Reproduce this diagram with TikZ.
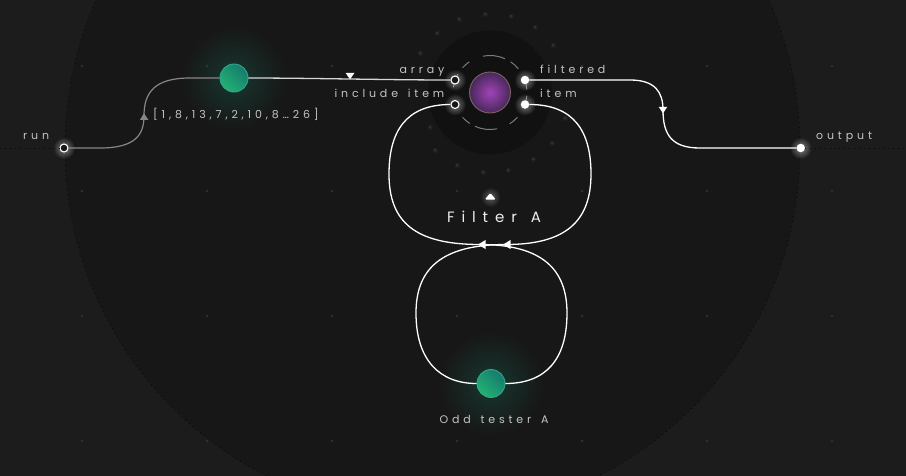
\documentclass[tikz,border=0pt]{standalone}
\usepackage{fontspec}
\setmainfont{Poppins}
\newfontfamily\labf[LetterSpace=35]{Poppins}
\newfontfamily\titf[LetterSpace=46]{Poppins}
\usetikzlibrary{fadings}
\definecolor{bgout}{HTML}{1C1C1C}
\definecolor{bgin}{HTML}{171717}
\definecolor{halo}{HTML}{111111}
\definecolor{griddot}{HTML}{313131}
\definecolor{sparkc}{HTML}{3E3E3E}
\definecolor{labc}{HTML}{C8C3C3}
\definecolor{wiregray}{HTML}{8A8585}
\definecolor{wirelight}{HTML}{D6D6D6}
\definecolor{gdark}{HTML}{167A6E}
\definecolor{glight}{HTML}{22B272}
\definecolor{grim}{HTML}{30A98A}
\definecolor{gglow}{HTML}{1A9A7A}
\definecolor{pin}{HTML}{A044B8}
\definecolor{pout}{HTML}{48285A}
\definecolor{prim}{HTML}{7E6262}
\definecolor{ringc}{HTML}{7C7C7C}
\newcommand\wsp{\hspace{3pt} }
\tikzfading[name=softglow, inner color=transparent!0, outer color=transparent!100]
\begin{document}
\begin{tikzpicture}[x=1pt,y=-1pt,
  wire/.style={line width=1.3pt, white},
  wireg/.style={line width=1.2pt, wiregray},
  wirel/.style={line width=1.3pt, wirelight},
  lab/.style={font=\labf\fontsize{11}{13}\selectfont, text=labc, inner sep=0pt},
  titlab/.style={font=\titf\fontsize{15}{17}\selectfont, text=white!93!black, inner sep=0pt},
  hport/.style={circle, draw=white, fill=bgin, line width=1.1pt, minimum size=8pt, inner sep=0pt},
  fport/.style={circle, fill=white, minimum size=8.5pt, inner sep=0pt},
  gnode/.style={circle, minimum size=28pt, inner sep=0pt, draw=grim, line width=0.9pt,
    left color=gdark, right color=glight, shading angle=-45},
  dotline/.style={griddot!120, line width=0.9pt, dash pattern=on 0.9pt off 4pt},
  ringarc/.style={ringc, line width=1pt},
  marker/.style={fill=white},
  glowW/.style={fill=white, path fading=softglow, fill opacity=0.45},
]
\useasboundingbox (0,0) rectangle (906,475);
\clip (0,0) rectangle (906,475);
% background
\fill[bgout] (-2,-2) rectangle (908,477);
\fill[bgin] (432.5,148) circle (367.5);
\draw[dotline] (432.5,148) circle (367.5);
\foreach \x in {82,207,332,457,582,707,832}
  \foreach \y in {66,191,316,441}
    \fill[griddot] (\x,\y) circle (1.3);
% glows of green nodes
\fill[gglow, path fading=softglow, fill opacity=0.25] (234,78) circle (52);
\fill[gglow, path fading=softglow, fill opacity=0.25] (491,383.5) circle (52);
% filter halo
\fill[halo] (490,92.5) circle (62);
% sparkles
\foreach \p in {(459,19),(485,14),(511,16),(535,27),(437,33),(553,45),(420,53),(565,118),(552,143),(533,159),(508,170),(483,172),(457,165),(435,150),(430,127)}{
  \fill[white, path fading=softglow, fill opacity=0.08] \p circle (3.5);
  \fill[sparkc] \p circle (0.9);
}
% dashed ring
\foreach \a/\b in {-101/-66,-56/-40,-138/-124,-172/-150,-237/-222,-281/-246,-318/-302,-13/-5,5/13}
  \draw[ringarc] (490,92.5) ++(\a:37) arc[start angle=\a, end angle=\b, radius=37];
% port glows
\foreach \p in {(64,148),(800.7,148),(455,80),(455,104.5),(525,80),(525,104.5)}
  \fill[glowW] \p circle (11);
% filter icon glow
\fill[glowW, fill opacity=0.3] (490.3,197) circle (10);

% nodes
\node[hport] (runp) at (64,148) {};
\node[fport] (outp) at (800.7,148) {};
\node[hport] (arrayp) at (455,80) {};
\node[hport] (inclp) at (455,104.5) {};
\node[fport] (filtp) at (525,80) {};
\node[fport] (itemp) at (525,104.5) {};
\node[circle, minimum size=41pt, inner sep=0pt, inner color=pin, outer color=pout,
      draw=prim, line width=0.9pt] (fball) at (490,92.5) {};
\node[gnode] (g1) at (234,78) {};
\node[gnode] (odd) at (491,383.5) {};

% dotted guide lines
\draw[dotline] (0,148) -- (runp.west);
\draw[dotline] (outp.east) -- (906,148);

% wires
\draw[wireg] (runp.east) -- (100,148) .. controls +(35,0) and +(0,19) .. (144,116)
   .. controls +(0,-24) and +(-35,0) .. (190,78) -- (g1.west);
\draw[wirel] (g1.east) .. controls +(60,0) and +(-60,0) .. (arrayp.west);
\draw[wire] (filtp.east) -- (630,80) .. controls +(25,0) and +(0,-18) .. (663,110)
   .. controls +(0,25) and +(-28,0) .. (700,148) -- (outp.west);
\draw[wire] (itemp.east) .. controls +(45,0) and +(0,-42) .. (591,174)
   .. controls +(0,48) and +(59,0) .. (506,244.5)
   .. controls +(-66,0) and +(0,-43) .. (416,313)
   .. controls +(0,47) and +(-37,0) .. (odd.west);
\draw[wire] (odd.east) .. controls +(40,0) and +(0,47) .. (567,313)
   .. controls +(0,-43) and +(63,0) .. (480,244.5)
   .. controls +(-65,0) and +(0,48) .. (389,174)
   .. controls +(0,-42) and +(-45,0) .. (inclp.west);

% markers
\fill[marker] (345.5,72.8) -- (354.5,72.8) -- (350,79.3) -- cycle;
\fill[marker] (658.7,106.8) -- (667.3,106.8) -- (663,113.3) -- cycle;
\fill[wiregray] (140,119.8) -- (148.3,119.8) -- (144,113.3) -- cycle;
\fill[marker] (478,244.5) -- (485.5,240) -- (485.5,249) -- cycle;
\fill[marker] (503,244.5) -- (510.5,240) -- (510.5,249) -- cycle;
\fill[marker, rounded corners=1.2pt] (484.8,199.5) -- (495.8,199.5) -- (490.3,193) -- cycle;

% labels
\node[lab, anchor=base east] (larray) at (444.5,73.3) {array};
\node[lab, anchor=base east] (lincl) at (444.5,97.3) {include\wsp item};
\node[lab, anchor=base west] (lfilt) at (540,73.3) {filtered};
\node[lab, anchor=base west] (litem) at (540,97.3) {item};
\node[lab, anchor=base west] (lrun) at (23,139.3) {run};
\node[lab, anchor=base west] (lout) at (816,139.3) {output};
\node[lab, anchor=base west] (ldata) at (153,118.3) {[1,8,13,7,2,10,8…26]};
\node[titlab, anchor=base] (ltitle) at (494,222.3) {Filter\wsp A};
\node[lab, anchor=base] (lodd) at (494,423.3) {Odd\wsp tester\wsp A};
\end{tikzpicture}
\end{document}
